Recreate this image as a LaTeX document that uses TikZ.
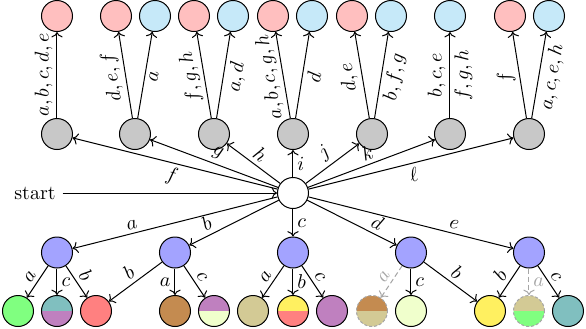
\documentclass[tikz,border=0pt]{standalone}
\usetikzlibrary{arrows.meta}
\definecolor{pinkc}{HTML}{FFBFBF}
\definecolor{skyc}{HTML}{C6E9F9}
\definecolor{grayc}{HTML}{C8C8C8}
\definecolor{violc}{HTML}{A3A3FF}
\definecolor{greenc}{HTML}{80FF80}
\definecolor{tealc}{HTML}{80BFBF}
\definecolor{purpc}{HTML}{BF80BF}
\definecolor{redc}{HTML}{FF8080}
\definecolor{brownc}{HTML}{C48B50}
\definecolor{limec}{HTML}{F0FFCC}
\definecolor{khakic}{HTML}{D3CA95}
\definecolor{yellc}{HTML}{FFF060}
\begin{document}
\begin{tikzpicture}[x=0.5pt,y=-0.5pt,
  st/.style={circle,draw,line width=0.5pt,minimum size=15.5pt,inner sep=0pt},
  topp/.style={st,fill=pinkc},
  tops/.style={st,fill=skyc},
  gnode/.style={st,fill=grayc},
  vnode/.style={st,fill=violc},
  halves/.style 2 args={st,path picture={
    \fill[#1] (path picture bounding box.north west) rectangle (path picture bounding box.east);
    \fill[#2] (path picture bounding box.west) rectangle (path picture bounding box.south east);}},
  ghost/.style={draw=gray!70,dashed,dash pattern=on 1.5pt off 1pt},
  arr/.style={->,line width=0.5pt},
  garr/.style={->,line width=0.5pt,draw=gray!70,dashed,dash pattern=on 2.5pt off 1.5pt},
  lab/.style={inner sep=2pt},
  tlab/.style={inner sep=2pt,sloped,allow upside down},
  glab/.style={inner sep=2pt,text=gray!70},
]
\useasboundingbox (0,0) rectangle (586,328);
% start
\node[st,fill=white] (s) at (293,193) {};
\node (start) at (35,193) {start};
\draw[arr] (start) -- (s);
% gray row
\node[gnode] (g1) at (57,134) {};
\node[gnode] (g2) at (135,134) {};
\node[gnode] (g3) at (214,134) {};
\node[gnode] (g4) at (293,134) {};
\node[gnode] (g5) at (372,134) {};
\node[gnode] (g6) at (450,134) {};
\node[gnode] (g7) at (529,134) {};
% top row
\node[topp] (t1) at (57,16) {};
\node[topp] (t2a) at (116,16) {};
\node[tops] (t2b) at (155,16) {};
\node[topp] (t3a) at (194,16) {};
\node[tops] (t3b) at (233,16) {};
\node[topp] (t4a) at (273,16) {};
\node[tops] (t4b) at (312,16) {};
\node[topp] (t5a) at (352,16) {};
\node[tops] (t5b) at (391,16) {};
\node[tops] (t6) at (450,16) {};
\node[topp] (t7a) at (510,16) {};
\node[tops] (t7b) at (549,16) {};
% top edges
\draw[arr] (g1) -- node[tlab,above]{$a,b,c,d,e$} (t1);
\draw[arr] (g2) -- node[tlab,above]{$d,e,f$} (t2a);
\draw[arr] (g2) -- node[tlab,below]{$a$} (t2b);
\draw[arr] (g3) -- node[tlab,above]{$f,g,h$} (t3a);
\draw[arr] (g3) -- node[tlab,below]{$a,d$} (t3b);
\draw[arr] (g4) -- node[tlab,above]{$a,b,c,g,h$} (t4a);
\draw[arr] (g4) -- node[tlab,below]{$d$} (t4b);
\draw[arr] (g5) -- node[tlab,above]{$d,e$} (t5a);
\draw[arr] (g5) -- node[tlab,below]{$b,f,g$} (t5b);
\draw[arr] (g6) -- node[tlab,above]{$b,c,e$} node[tlab,below]{$f,g,h$} (t6);
\draw[arr] (g7) -- node[tlab,above]{$f$} (t7a);
\draw[arr] (g7) -- node[tlab,below]{$a,c,e,h$} (t7b);
% middle edges
\draw[arr] (s) -- node[lab,sloped,below]{$f$} (g1);
\draw[arr] (s) -- node[lab,sloped,above]{$g$} (g2);
\draw[arr] (s) -- node[lab,sloped,above]{$h$} (g3);
\draw[arr] (s) -- node[lab,right]{$i$} (g4);
\draw[arr] (s) -- node[lab,sloped,above]{$j$} (g5);
\draw[arr] (s) -- node[lab,sloped,above]{$k$} (g6);
\draw[arr] (s) -- node[lab,sloped,below]{$\ell$} (g7);
% blue row
\node[vnode] (b1) at (57,252.5) {};
\node[vnode] (b2) at (175,252.5) {};
\node[vnode] (b3) at (293,252.5) {};
\node[vnode] (b4) at (411,252.5) {};
\node[vnode] (b5) at (529,252.5) {};
\draw[arr] (s) -- node[lab,sloped,above,pos=0.7]{$a$} (b1);
\draw[arr] (s) -- node[lab,sloped,above,pos=0.75]{$b$} (b2);
\draw[arr] (s) -- node[lab,right]{$c$} (b3);
\draw[arr] (s) -- node[lab,sloped,above,pos=0.73]{$d$} (b4);
\draw[arr] (s) -- node[lab,sloped,above,pos=0.7]{$e$} (b5);
% leaves
\node[st,fill=greenc] (l1) at (18,311) {};
\node[halves={tealc}{purpc}] (l2) at (57,311) {};
\node[st,fill=redc] (l3) at (96,311) {};
\node[st,fill=brownc] (l4) at (175,311) {};
\node[halves={purpc}{limec}] (l5) at (214,311) {};
\node[st,fill=khakic] (l6) at (253,311) {};
\node[halves={yellc}{redc}] (l7) at (293,311) {};
\node[st,fill=purpc] (l8) at (332,311) {};
\node[halves={brownc}{khakic},ghost] (l9) at (372,311) {};
\node[st,fill=limec] (l10) at (411,311) {};
\node[st,fill=yellc] (l11) at (490,311) {};
\node[halves={khakic}{greenc},ghost] (l12) at (529,311) {};
\node[st,fill=tealc] (l13) at (568,311) {};
% leaf edges
\draw[arr] (b1) -- node[lab,sloped,above]{$a$} (l1);
\draw[arr] (b1) -- node[lab,right]{$c$} (l2);
\draw[arr] (b1) -- node[lab,sloped,above]{$b$} (l3);
\draw[arr] (b2) -- node[lab,sloped,above]{$b$} (l3);
\draw[arr] (b2) -- node[lab,left]{$a$} (l4);
\draw[arr] (b2) -- node[lab,sloped,above]{$c$} (l5);
\draw[arr] (b3) -- node[lab,sloped,above]{$a$} (l6);
\draw[arr] (b3) -- node[lab,right]{$b$} (l7);
\draw[arr] (b3) -- node[lab,sloped,above]{$c$} (l8);
\draw[garr] (b4) -- node[glab,sloped,above]{$a$} (l9);
\draw[arr] (b4) -- node[lab,right]{$c$} (l10);
\draw[arr] (b4) -- node[lab,sloped,above]{$b$} (l11);
\draw[arr] (b5) -- node[lab,sloped,above]{$b$} (l11);
\draw[garr] (b5) -- node[glab,right]{$a$} (l12);
\draw[arr] (b5) -- node[lab,sloped,above]{$c$} (l13);
\end{tikzpicture}
\end{document}
